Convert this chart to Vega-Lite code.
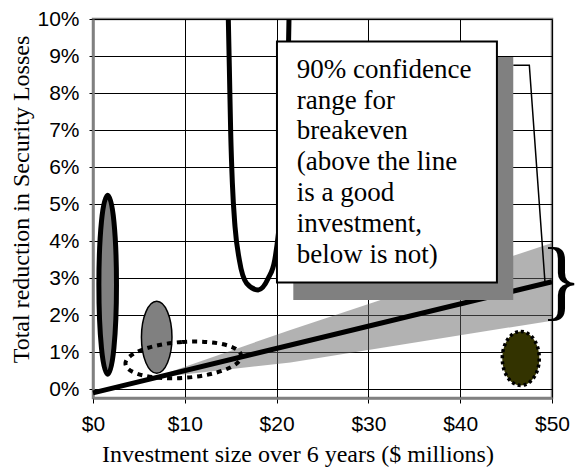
{
  "$schema": "https://vega.github.io/schema/vega-lite/v6.json",
  "width": 459,
  "height": 379,
  "autosize": "none",
  "padding": {"left": 93, "top": 19, "right": 23, "bottom": 70},
  "background": "white",
  "config": {
    "view": {"stroke": "#808080", "strokeWidth": 2.5},
    "text": {"font": "Liberation Serif"}
  },
  "datasets": {
    "band": [
      {"x": 6.5, "y": 0.3, "y2": 0.3},
      {"x": 21.5, "y": 1.6, "y2": 0.72},
      {"x": 50, "y": 3.95, "y2": 1.85}
    ],
    "line": [
      {"x": 0, "y": -0.1},
      {"x": 50, "y": 2.9}
    ],
    "curve": [
      {"x": 14.74, "y": 10.0},
      {"x": 14.85, "y": 8.72},
      {"x": 15.0, "y": 6.92},
      {"x": 15.18, "y": 5.57},
      {"x": 15.47, "y": 4.39},
      {"x": 15.94, "y": 3.49},
      {"x": 16.74, "y": 2.86},
      {"x": 18.0, "y": 2.68},
      {"x": 19.1, "y": 3.0},
      {"x": 19.8, "y": 3.49},
      {"x": 20.5, "y": 5.0},
      {"x": 21.0, "y": 7.0},
      {"x": 21.25, "y": 8.7},
      {"x": 21.35, "y": 10.0}
    ],
    "ellipses": [
      {"name": "tall", "x": 1.6, "y": 2.82},
      {"name": "small", "x": 6.94, "y": 1.40},
      {"name": "dotted", "x": 9.84, "y": 0.79},
      {"name": "olive", "x": 46.6, "y": 0.83}
    ],
    "connector": [
      {"x": 45.78, "y": 8.75},
      {"x": 47.53, "y": 8.75},
      {"x": 49.24, "y": 2.87}
    ],
    "boxes": [
      {"name": "shadow", "x": 21.82, "x2": 45.78, "y": 8.97, "y2": 2.41},
      {"name": "box", "x": 20.04, "x2": 44.0, "y": 9.39, "y2": 2.88}
    ],
    "label": [
      {"x": 22.2, "y": 8.98, "text": "90% confidence\nrange for\nbreakeven\n(above the line\nis a good\ninvestment,\nbelow is not)"}
    ],
    "brace": [
      {"x": 50, "y": 2.87, "text": "}"}
    ]
  },
  "encoding": {
    "x": {
      "field": "x",
      "type": "quantitative",
      "scale": {"domain": [0, 50], "nice": false, "zero": false},
      "axis": {
        "title": "Investment size over 6 years ($ millions)",
        "values": [0, 10, 20, 30, 40, 50],
        "labelExpr": "'$' + datum.value",
        "grid": true,
        "gridColor": "black",
        "gridWidth": 1,
        "gridOpacity": 1,
        "tickSize": 5,
        "tickColor": "black",
        "tickWidth": 1,
        "domainColor": "#808080",
        "domainWidth": 2.5,
        "labelFont": "Liberation Sans",
        "labelFontSize": 21,
        "labelColor": "black",
        "labelPadding": 10,
        "labelFlush": false,
        "labelOverlap": false,
        "titleFont": "Liberation Serif",
        "titleFontSize": 24,
        "titleFontWeight": "normal",
        "titleColor": "black",
        "titleX": 204.5,
        "titleY": 63,
        "titleBaseline": "alphabetic",
        "titleAlign": "center"
      }
    },
    "y": {
      "field": "y",
      "type": "quantitative",
      "scale": {"domain": [-0.24, 10], "nice": false, "zero": false},
      "axis": {
        "title": "Total reduction in Security Losses",
        "values": [0, 1, 2, 3, 4, 5, 6, 7, 8, 9, 10],
        "labelExpr": "datum.value + '%'",
        "grid": true,
        "gridColor": "black",
        "gridWidth": 1,
        "gridOpacity": 1,
        "tickSize": 4,
        "tickColor": "black",
        "tickWidth": 1,
        "domainColor": "#808080",
        "domainWidth": 2.5,
        "labelFont": "Liberation Sans",
        "labelFontSize": 21,
        "labelColor": "black",
        "labelPadding": 10,
        "labelFlush": false,
        "labelOverlap": false,
        "titleFont": "Liberation Serif",
        "titleFontSize": 24,
        "titleFontWeight": "normal",
        "titleColor": "black",
        "titleAngle": 270,
        "titleX": -65,
        "titleY": 180,
        "titleBaseline": "alphabetic",
        "titleAlign": "center"
      }
    }
  },
  "layer": [
    {
      "data": {"name": "band"},
      "mark": {"type": "area", "fill": "#666666", "fillOpacity": 0.5},
      "encoding": {"y2": {"field": "y2"}}
    },
    {
      "data": {"name": "line"},
      "mark": {"type": "line", "color": "black", "strokeWidth": 5},
      "encoding": {}
    },
    {
      "data": {"name": "curve"},
      "mark": {"type": "line", "color": "black", "strokeWidth": 5, "interpolate": "monotone", "clip": true},
      "encoding": {}
    },
    {
      "data": {"name": "ellipses"},
      "transform": [{"filter": "datum.name === 'tall'"}],
      "mark": {
        "type": "point",
        "filled": true,
        "fill": "#808080",
        "fillOpacity": 1,
        "stroke": "black",
        "strokeWidth": 5,
        "opacity": 1,
        "size": 32041,
        "shape": "M0,-1C0.0543,-1 0.0983,-0.5523 0.0983,0C0.0983,0.5523 0.0543,1 0,1C-0.0543,1 -0.0983,0.5523 -0.0983,0C-0.0983,-0.5523 -0.0543,-1 0,-1Z"
      }
    },
    {
      "data": {"name": "ellipses"},
      "transform": [{"filter": "datum.name === 'small'"}],
      "mark": {
        "type": "point",
        "filled": true,
        "fill": "#808080",
        "fillOpacity": 1,
        "stroke": "black",
        "strokeWidth": 1.5,
        "opacity": 1,
        "size": 5184,
        "shape": "M0,-1C0.2342,-1 0.424,-0.5523 0.424,0C0.424,0.5523 0.2342,1 0,1C-0.2342,1 -0.424,0.5523 -0.424,0C-0.424,-0.5523 -0.2342,-1 0,-1Z"
      }
    },
    {
      "data": {"name": "ellipses"},
      "transform": [{"filter": "datum.name === 'dotted'"}],
      "mark": {
        "type": "point",
        "filled": false,
        "fill": null,
        "stroke": "black",
        "strokeWidth": 4,
        "strokeDash": [5, 5],
        "opacity": 1,
        "angle": 356,
        "size": 13456,
        "shape": "M0,-0.31C0.5523,-0.31 1,-0.1712 1,0C1,0.1712 0.5523,0.31 0,0.31C-0.5523,0.31 -1,0.1712 -1,0C-1,-0.1712 -0.5523,-0.31 0,-0.31Z"
      }
    },
    {
      "data": {"name": "ellipses"},
      "transform": [{"filter": "datum.name === 'olive'"}],
      "mark": {
        "type": "point",
        "filled": true,
        "fill": "#333300",
        "fillOpacity": 1,
        "stroke": "black",
        "strokeWidth": 3.5,
        "strokeDash": [3, 3],
        "opacity": 1,
        "size": 2916,
        "shape": "M0,-1C0.3783,-1 0.685,-0.5523 0.685,0C0.685,0.5523 0.3783,1 0,1C-0.3783,1 -0.685,0.5523 -0.685,0C-0.685,-0.5523 -0.3783,-1 0,-1Z"
      }
    },
    {
      "data": {"name": "connector"},
      "mark": {"type": "line", "color": "black", "strokeWidth": 1.5},
      "encoding": {}
    },
    {
      "data": {"name": "boxes"},
      "transform": [{"filter": "datum.name === 'shadow'"}],
      "mark": {"type": "rect", "fill": "#808080"},
      "encoding": {"x2": {"field": "x2"}, "y2": {"field": "y2"}}
    },
    {
      "data": {"name": "boxes"},
      "transform": [{"filter": "datum.name === 'box'"}],
      "mark": {"type": "rect", "fill": "white", "stroke": "black", "strokeWidth": 2},
      "encoding": {"x2": {"field": "x2"}, "y2": {"field": "y2"}}
    },
    {
      "data": {"name": "label"},
      "mark": {"type": "text", "align": "left", "baseline": "top", "font": "Liberation Serif, serif", "fontSize": 27, "lineHeight": 30.8, "lineBreak": "\n", "color": "black"},
      "encoding": {"text": {"field": "text", "type": "nominal"}}
    },
    {
      "data": {"name": "brace"},
      "mark": {"type": "text", "align": "center", "baseline": "middle", "font": "Liberation Serif, serif", "fontSize": 88, "dx": 9, "color": "black", "clip": false},
      "encoding": {"text": {"field": "text", "type": "nominal"}}
    }
  ]
}
